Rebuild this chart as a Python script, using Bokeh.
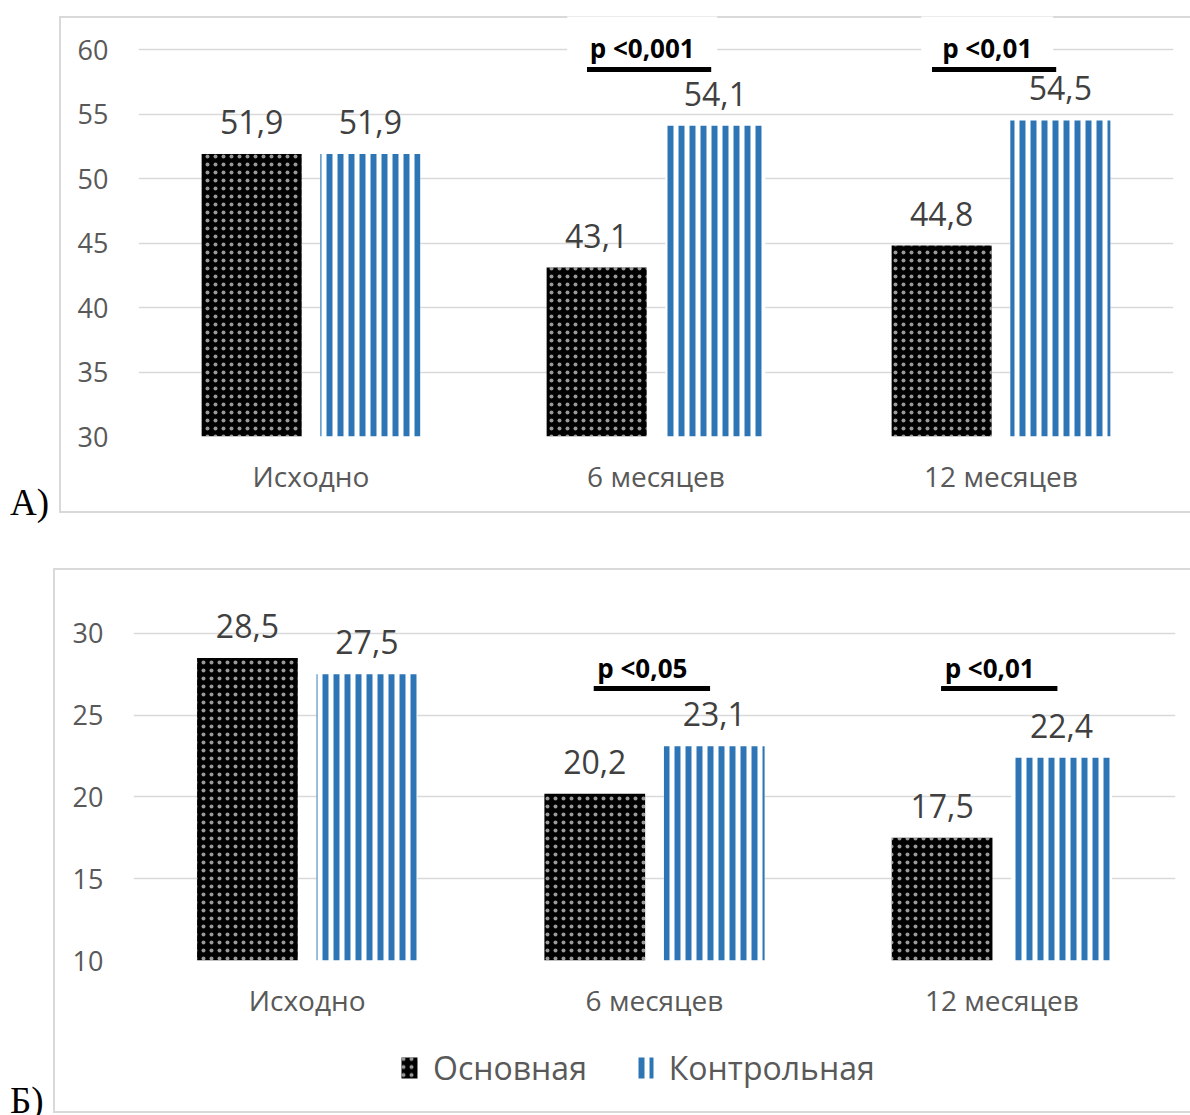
from bokeh.plotting import figure
from bokeh.models import (ColumnDataSource, FactorRange, Range1d, FixedTicker, Legend,
                          LegendItem, Div, Spacer)
from bokeh.transform import dodge
from bokeh.layouts import column, row
from bokeh.embed import file_html
from bokeh.resources import INLINE
from bokeh.core.properties import value

# ---------------- data ----------------
categories = ["Исходно", "6 месяцев", "12 месяцев"]
series_names = ["Основная", "Контрольная"]

a_main = [51.9, 43.1, 44.8]
a_ctrl = [51.9, 54.1, 54.5]
a_ticks = [30, 35, 40, 45, 50, 55, 60]
a_p_cats = ["6 месяцев", "12 месяцев"]
a_p_texts = ["p <0,001", "p <0,01"]

b_main = [28.5, 20.2, 17.5]
b_ctrl = [27.5, 23.1, 22.4]
b_ticks = [10, 15, 20, 25, 30]
b_p_cats = ["6 месяцев", "12 месяцев"]
b_p_texts = ["p <0,05", "p <0,01"]

panel_labels = ["А)", "Б)"]

# ---------------- style ----------------
FONT = "Open Sans"
GRAY = "#595959"
DARK = "#404040"
GRID = "#d9d9d9"
BLUE = "#2e75b6"
OFF = 0.172
BW = 0.29
FRAME_OUT = {"box-shadow": "0 0 0 2px #d9d9d9", "background-color": "white"}
FRAME_IN = {"box-shadow": ("inset 2px 0 0 0 #d9d9d9, inset 0 2px 0 0 #d9d9d9, "
                           "inset 0 -2px 0 0 #d9d9d9"),
            "background-color": "white"}

MAIN_STYLE = dict(fill_color="black", line_color=None, hatch_pattern="dot",
                  hatch_color="white", hatch_scale=8, hatch_weight=1,
                  hatch_alpha=0.6)
CTRL_STYLE = dict(fill_color="white", line_color=None,
                  hatch_pattern="vertical_line", hatch_color=BLUE,
                  hatch_scale=11, hatch_weight=6)


def fmt(v):
    return f"{v:.1f}".replace(".", ",")


def make_panel(main, ctrl, ticks, y_start, y_end, width, height, borders, p_cats,
               p_texts, p_text_off, line_off, p_text_y, p_line_y, styles,
               transparent=False, box_y=None):
    bl, bt, br, bb = borders
    p = figure(width=width, height=height,
               x_range=FactorRange(factors=categories, range_padding=0),
               y_range=Range1d(y_start, y_end),
               output_backend="svg", toolbar_location=None,
               min_border_left=bl, min_border_top=bt, min_border_right=br,
               min_border_bottom=bb, styles=styles)
    p.outline_line_color = None
    if transparent:
        p.background_fill_color = None
        p.border_fill_color = None
    else:
        p.background_fill_color = "white"
        p.border_fill_color = "white"

    src = ColumnDataSource(dict(cat=categories, main=main, ctrl=ctrl,
                                main_lbl=[fmt(v) for v in main],
                                ctrl_lbl=[fmt(v) for v in ctrl]))

    r1 = p.vbar(x=dodge("cat", -OFF, range=p.x_range), top="main", bottom=y_start,
                width=BW, source=src, **MAIN_STYLE)
    r2 = p.vbar(x=dodge("cat", OFF, range=p.x_range), top="ctrl", bottom=y_start,
                width=BW, source=src, **CTRL_STYLE)

    for col, lbl, off in (("main", "main_lbl", -OFF), ("ctrl", "ctrl_lbl", OFF)):
        p.text(x=dodge("cat", off, range=p.x_range), y=col, text=lbl, source=src,
               text_align="center", text_baseline="alphabetic", y_offset=-32,
               text_font=value(FONT), text_font_size="32px", text_color=DARK)

    psrc = ColumnDataSource(dict(cat=p_cats, txt=p_texts,
                                 box_w=[18 * len(t) + 6 for t in p_texts]))
    if box_y is not None:
        # white label box that interrupts the gridline and the chart border
        p.rect(x=dodge("cat", p_text_off, range=p.x_range), y=box_y, width="box_w",
               height=46, width_units="screen", height_units="screen",
               source=psrc, fill_color="white", line_color=None)
    p.text(x=dodge("cat", p_text_off, range=p.x_range), y=p_text_y, text="txt",
           source=psrc, text_align="center", text_baseline="middle",
           text_font=value(FONT), text_font_style="bold", text_font_size="26px",
           text_color="black", background_fill_color="white", padding=(20, 0))
    p.segment(x0=dodge("cat", line_off[0], range=p.x_range), y0=p_line_y,
              x1=dodge("cat", line_off[1], range=p.x_range), y1=p_line_y,
              source=psrc, line_color="black", line_width=5)

    p.xgrid.visible = False
    p.ygrid.ticker = FixedTicker(ticks=ticks)
    p.ygrid.grid_line_color = GRID
    p.ygrid.grid_line_width = 1.5

    p.yaxis.ticker = FixedTicker(ticks=ticks)
    for ax in (p.xaxis, p.yaxis):
        ax.axis_line_color = None
        ax.major_tick_line_color = None
        ax.minor_tick_line_color = None
        ax.major_tick_out = 0
        ax.major_tick_in = 0
        ax.major_label_text_color = GRAY
        ax.major_label_text_font = FONT
    p.yaxis.major_label_text_font_size = "27px"
    p.yaxis.major_label_standoff = 30
    p.xaxis.major_label_text_font_size = "28px"
    p.xaxis.major_label_standoff = 20
    return p


def legend_strip(width, height, left_gap):
    # the same bar series, kept out of view: only their legend swatches show
    lf = figure(width=width, height=height,
                x_range=FactorRange(factors=categories, range_padding=0),
                y_range=Range1d(1000, 1001), output_backend="svg",
                toolbar_location=None, min_border_left=0, min_border_top=0,
                min_border_right=0, min_border_bottom=0)
    lf.axis.visible = False
    lf.grid.visible = False
    lf.outline_line_color = None
    lf.background_fill_color = "white"
    lf.border_fill_color = "white"
    src = ColumnDataSource(dict(cat=categories, main=b_main, ctrl=b_ctrl))
    r1 = lf.vbar(x=dodge("cat", -OFF, range=lf.x_range), top="main", bottom=10,
                 width=BW, source=src, **MAIN_STYLE)
    r2 = lf.vbar(x=dodge("cat", OFF, range=lf.x_range), top="ctrl", bottom=10,
                 width=BW, source=src, **CTRL_STYLE)
    legend = Legend(items=[LegendItem(label=series_names[0], renderers=[r1]),
                           LegendItem(label=series_names[1], renderers=[r2])],
                    orientation="horizontal", location="left",
                    border_line_color=None, background_fill_alpha=0,
                    label_text_font=FONT, label_text_font_size="32px",
                    label_text_color=GRAY, glyph_width=20, glyph_height=26,
                    label_standoff=14, spacing=48, margin=left_gap, padding=0)
    lf.add_layout(legend, "center")
    return lf


def side_label(text, width, height, top):
    html = ('<div style="position:absolute; left:10px; top:%dpx; '
            'font-family:\'Liberation Serif\'; font-size:37px; line-height:1; '
            'color:black; white-space:nowrap;">%s</div>' % (top, text))
    return Div(text=html, width=width, height=height, margin=0,
               styles={"overflow": "visible"})


pa = make_panel(a_main, a_ctrl, a_ticks, 30, 62.56, 1131, 497, (79, 0, 17, 77),
                a_p_cats, a_p_texts, -0.04, (-0.2, 0.16), 60.08, 58.45,
                FRAME_IN, transparent=True, box_y=60.85)
pb = make_panel(b_main, b_ctrl, b_ticks, 10, 32.32, 1135, 453, (78, 25, 15, 63),
                b_p_cats, b_p_texts, -0.035, (-0.175, 0.16), 27.86, 26.64, {})
lb = legend_strip(1135, 88, 266)

layout = column(
    Spacer(height=16, width=1190),
    row(side_label(panel_labels[0], 59, 497, 468), pa),
    Spacer(height=57, width=1190),
    row(side_label(panel_labels[1], 55, 541, 512),
        column(pb, lb, styles=FRAME_OUT)),
)
open("out.html", "w").write(file_html(layout, INLINE))
